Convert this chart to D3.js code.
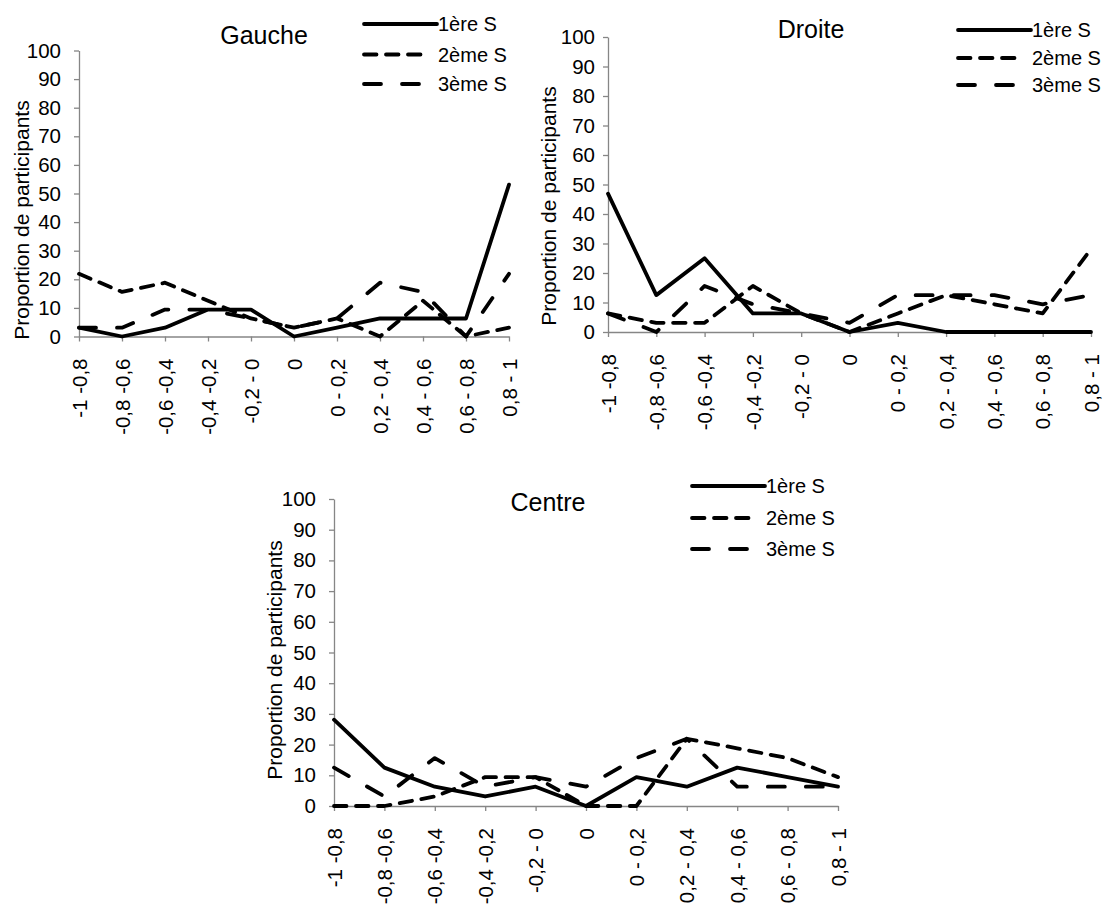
<!DOCTYPE html>
<html>
<head>
<meta charset="utf-8">
<script src="https://cdn.jsdelivr.net/npm/d3@7"></script>
<style>
  html, body { margin: 0; padding: 0; background: #fff; }
  svg { display: block; }
  text { font-family: "Liberation Sans", Arial, sans-serif; fill: #000; }
</style>
</head>
<body>
<svg id="chart" width="1103" height="906"></svg>
<script>
// ---- data ----
const categories = ["-1 -0,8", "-0,8 -0,6", "-0,6 -0,4", "-0,4 -0,2", "-0,2 - 0", "0", "0 - 0,2", "0,2 - 0,4", "0,4 - 0,6", "0,6 - 0,8", "0,8 - 1"];
const yTicks = [0, 10, 20, 30, 40, 50, 60, 70, 80, 90, 100];
const seriesNames = ["1ère S", "2ème S", "3ème S"];
const panelTitles = ["Gauche", "Droite", "Centre"];
const yLabel = "Proportion de participants";

const gauche1 = [3.1, 0, 3.1, 9.4, 9.4, 0, 3.1, 6.3, 6.3, 6.3, 53.1];
const gauche2 = [21.9, 15.6, 18.8, 12.5, 6.3, 3.1, 6.3, 0, 12.5, 0, 3.1];
const gauche3 = [3.1, 3.1, 9.4, 9.4, 6.3, 3.1, 6.3, 18.8, 15.6, 0, 21.9];

const droite1 = [46.9, 12.5, 25, 6.3, 6.3, 0, 3.1, 0, 0, 0, 0];
const droite2 = [6.3, 3.1, 3.1, 15.6, 6.3, 0, 6.3, 12.5, 9.4, 6.3, 28.1];
const droite3 = [6.3, 0, 15.6, 9.4, 6.3, 3.1, 12.5, 12.5, 12.5, 9.4, 12.5];

const centre1 = [28.1, 12.5, 6.3, 3.1, 6.3, 0, 9.4, 6.3, 12.5, 9.4, 6.3];
const centre2 = [0, 0, 3.1, 9.4, 9.4, 0, 0, 21.9, 18.8, 15.6, 9.4];
const centre3 = [12.5, 3.1, 15.6, 6.3, 9.4, 6.3, 15.6, 21.9, 6.3, 6.3, 6.3];

// ---- layout / style (not data) ----
const dashStyles = [null, "12.5 9.5", "17 21"];
const axisColor = "#868686";
const lineW = 3.8;

const panels = [
  { title: panelTitles[0], series: [gauche1, gauche2, gauche3],
    x0: 79, x1: 509, yTop: 50.5, yBot: 336.5, tickPad: 13,
    titleX: 264, titleY: 44, ylabX: 22, ylabY: 220,
    legX: 364, legTextX: 438, legY: [24, 54.5, 84] },
  { title: panelTitles[1], series: [droite1, droite2, droite3],
    x0: 608, x1: 1091, yTop: 37, yBot: 332, tickPad: 8,
    titleX: 811, titleY: 38, ylabX: 549, ylabY: 206,
    legX: 958, legTextX: 1032, legY: [30, 58, 85] },
  { title: panelTitles[2], series: [centre1, centre2, centre3],
    x0: 334, x1: 838, yTop: 499, yBot: 806, tickPad: 13,
    titleX: 548, titleY: 511, ylabX: 275, ylabY: 660,
    legX: 692, legTextX: 766, legY: [486, 518, 549] }
];

const svg = d3.select("#chart");

panels.forEach(p => {
  const g = svg.append("g");
  const x = d3.scalePoint().domain(categories).range([p.x0, p.x1]).padding(0);
  const y = d3.scaleLinear().domain([0, 100]).range([p.yBot, p.yTop]);

  // y axis
  const yAxis = d3.axisLeft(y).tickValues(yTicks).tickSize(5).tickSizeOuter(0).tickPadding(p.tickPad);
  const ya = g.append("g").attr("transform", `translate(${p.x0},0)`).call(yAxis);
  ya.select(".domain").attr("stroke", axisColor).attr("stroke-width", 1.3);
  ya.selectAll(".tick line").attr("stroke", axisColor).attr("stroke-width", 1.3);
  ya.selectAll(".tick text").attr("font-size", 20.5).attr("font-family", "Liberation Sans, Arial, sans-serif").attr("fill", "#000");

  // x axis
  const xAxis = d3.axisBottom(x).tickSize(5).tickSizeOuter(0).tickPadding(0);
  const xa = g.append("g").attr("transform", `translate(0,${p.yBot})`).call(xAxis);
  xa.select(".domain").attr("stroke", axisColor).attr("stroke-width", 1.3);
  xa.selectAll(".tick line").attr("stroke", axisColor).attr("stroke-width", 1.3);
  xa.selectAll(".tick text")
    .attr("font-size", 20.5).attr("font-family", "Liberation Sans, Arial, sans-serif").attr("fill", "#000")
    .attr("text-anchor", "end")
    .attr("transform", "translate(0,22) rotate(-90)")
    .attr("x", 0).attr("y", 0).attr("dy", "0.35em");

  // y label
  g.append("text")
    .attr("transform", `translate(${p.ylabX},${p.ylabY}) rotate(-90)`)
    .attr("text-anchor", "middle").attr("dy", "0.35em")
    .attr("font-size", 21).text(yLabel);

  // title
  g.append("text").attr("x", p.titleX).attr("y", p.titleY)
    .attr("text-anchor", "middle").attr("font-size", 25).text(p.title);

  // lines
  const line = d3.line().x((d, i) => x(categories[i])).y(d => y(d));
  p.series.forEach((vals, si) => {
    g.append("path").datum(vals)
      .attr("d", line)
      .attr("fill", "none").attr("stroke", "#000").attr("stroke-width", lineW)
      .attr("stroke-linejoin", "round").attr("stroke-linecap", "round")
      .attr("stroke-dasharray", dashStyles[si]);
  });

  // legend
  seriesNames.forEach((name, si) => {
    const ly = p.legY[si];
    const len = si === 0 ? (p.legTextX - p.legX - 1) : 60;
    g.append("line").attr("x1", p.legX).attr("x2", p.legX + len)
      .attr("y1", ly).attr("y2", ly)
      .attr("stroke", "#000").attr("stroke-width", lineW).attr("stroke-linecap", "round")
      .attr("stroke-dasharray", dashStyles[si]);
    g.append("text").attr("x", p.legTextX).attr("y", ly).attr("dy", "0.35em")
      .attr("font-size", 20).text(name);
  });
});
</script>
</body>
</html>
